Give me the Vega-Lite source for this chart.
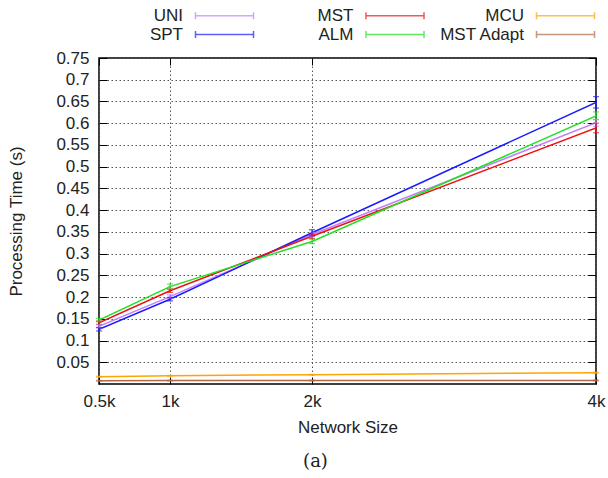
{
  "$schema": "https://vega.github.io/schema/vega-lite/v6.json",
  "width": 497,
  "height": 326,
  "autosize": {"type": "none"},
  "padding": {"left": 99, "top": 58, "right": 12, "bottom": 94},
  "background": "white",
  "title": {"text": "(a)", "orient": "bottom", "anchor": "middle", "dx": -32, "offset": 18, "font": "DejaVu Serif", "fontSize": 18, "fontWeight": "normal", "color": "#222"},
  "config": {
    "view": {"stroke": "black", "strokeWidth": 1.5},
    "font": "Liberation Sans",
    "axis": {"labelFont": "Liberation Sans", "titleFont": "Liberation Sans", "labelFontSize": 17, "titleFontSize": 17, "titleFontWeight": "normal", "labelColor": "#222", "titleColor": "#222", "domain": false, "tickColor": "black", "tickWidth": 1, "gridColor": "#555", "gridDash": [1.5, 2.5], "gridWidth": 1, "gridOpacity": 1}
  },
  "data": {"values": [
    {"series": "UNI", "n": 0.5, "t": 0.133, "lo": 0.129, "hi": 0.137},
    {"series": "UNI", "n": 1, "t": 0.201, "lo": 0.197, "hi": 0.205},
    {"series": "UNI", "n": 2, "t": 0.344, "lo": 0.339, "hi": 0.349},
    {"series": "UNI", "n": 4, "t": 0.601, "lo": 0.593, "hi": 0.609},
    {"series": "SPT", "n": 0.5, "t": 0.126, "lo": 0.122, "hi": 0.130},
    {"series": "SPT", "n": 1, "t": 0.195, "lo": 0.191, "hi": 0.199},
    {"series": "SPT", "n": 2, "t": 0.348, "lo": 0.341, "hi": 0.355},
    {"series": "SPT", "n": 4, "t": 0.648, "lo": 0.635, "hi": 0.661},
    {"series": "MST", "n": 0.5, "t": 0.141, "lo": 0.137, "hi": 0.145},
    {"series": "MST", "n": 1, "t": 0.2145, "lo": 0.2105, "hi": 0.2185},
    {"series": "MST", "n": 2, "t": 0.340, "lo": 0.335, "hi": 0.345},
    {"series": "MST", "n": 4, "t": 0.589, "lo": 0.578, "hi": 0.600},
    {"series": "ALM", "n": 0.5, "t": 0.147, "lo": 0.143, "hi": 0.151},
    {"series": "ALM", "n": 1, "t": 0.224, "lo": 0.218, "hi": 0.230},
    {"series": "ALM", "n": 2, "t": 0.328, "lo": 0.323, "hi": 0.333},
    {"series": "ALM", "n": 4, "t": 0.617, "lo": 0.608, "hi": 0.626},
    {"series": "MCU", "n": 0.5, "t": 0.0168, "lo": 0.0158, "hi": 0.0178},
    {"series": "MCU", "n": 1, "t": 0.019, "lo": 0.018, "hi": 0.020},
    {"series": "MCU", "n": 2, "t": 0.0214, "lo": 0.0204, "hi": 0.0224},
    {"series": "MCU", "n": 4, "t": 0.026, "lo": 0.025, "hi": 0.027},
    {"series": "MST Adapt", "n": 0.5, "t": 0.0076, "lo": 0.0068, "hi": 0.0084},
    {"series": "MST Adapt", "n": 1, "t": 0.0078, "lo": 0.007, "hi": 0.0086},
    {"series": "MST Adapt", "n": 2, "t": 0.008, "lo": 0.0072, "hi": 0.0088},
    {"series": "MST Adapt", "n": 4, "t": 0.0082, "lo": 0.0074, "hi": 0.009}
  ]},
  "resolve": {"axis": {"x": "independent", "y": "independent"}},
  "layer": [
    {
      "mark": {"type": "line", "strokeWidth": 1.5, "clip": true},
      "encoding": {
        "x": {"field": "n", "type": "quantitative", "scale": {"domain": [0.5, 4], "nice": false, "zero": false}, "title": "Network Size",
          "axis": {"values": [0.5, 1, 2, 4], "labelExpr": "datum.value + 'k'", "tickSize": -7, "labelPadding": 16, "titlePadding": 10, "grid": true, "labelFlush": false}},
        "y": {"field": "t", "type": "quantitative", "scale": {"domain": [0, 0.75], "nice": false}, "title": "Processing Time (s)",
          "axis": {"values": [0.05, 0.1, 0.15, 0.2, 0.25, 0.3, 0.35, 0.4, 0.45, 0.5, 0.55, 0.6, 0.65, 0.7, 0.75], "format": ".2~f", "tickSize": -8, "labelPadding": 18, "titlePadding": 30, "grid": true, "labelFlush": false}},
        "color": {"field": "series", "type": "nominal",
          "scale": {"domain": ["UNI", "MST", "MCU", "SPT", "ALM", "MST Adapt"], "range": ["#c080ff", "#ee1111", "#ffa500", "#1a1aff", "#22e022", "#b06a4a"]},
          "legend": {"orient": "none", "legendX": 96, "legendY": -53, "columns": 3, "direction": "horizontal", "title": null, "gridAlign": "all",
            "symbolType": "M-3,-0.36V0.36M-3,0H3M3,-0.36V0.36", "symbolSize": 374, "symbolStrokeWidth": 1.5, "symbolOffset": 19,
            "labelFontSize": 17, "labelFont": "Liberation Sans", "labelColor": "#222", "labelAlign": "right", "labelOffset": -52,
            "columnPadding": 10.5, "rowPadding": -1, "labelLimit": 200}}
      }
    },
    {
      "mark": {"type": "errorbar", "ticks": {"size": 6}, "thickness": 1.2},
      "encoding": {
        "x": {"field": "n", "type": "quantitative", "axis": {"orient": "top", "values": [0.5, 1, 2, 4], "labels": false, "tickSize": -7, "grid": false, "title": null}},
        "y": {"field": "lo", "type": "quantitative", "axis": {"orient": "right", "values": [0.05, 0.1, 0.15, 0.2, 0.25, 0.3, 0.35, 0.4, 0.45, 0.5, 0.55, 0.6, 0.65, 0.7, 0.75], "labels": false, "tickSize": -8, "grid": false, "title": null}},
        "y2": {"field": "hi"},
        "color": {"field": "series", "type": "nominal"}
      }
    }
  ]
}
